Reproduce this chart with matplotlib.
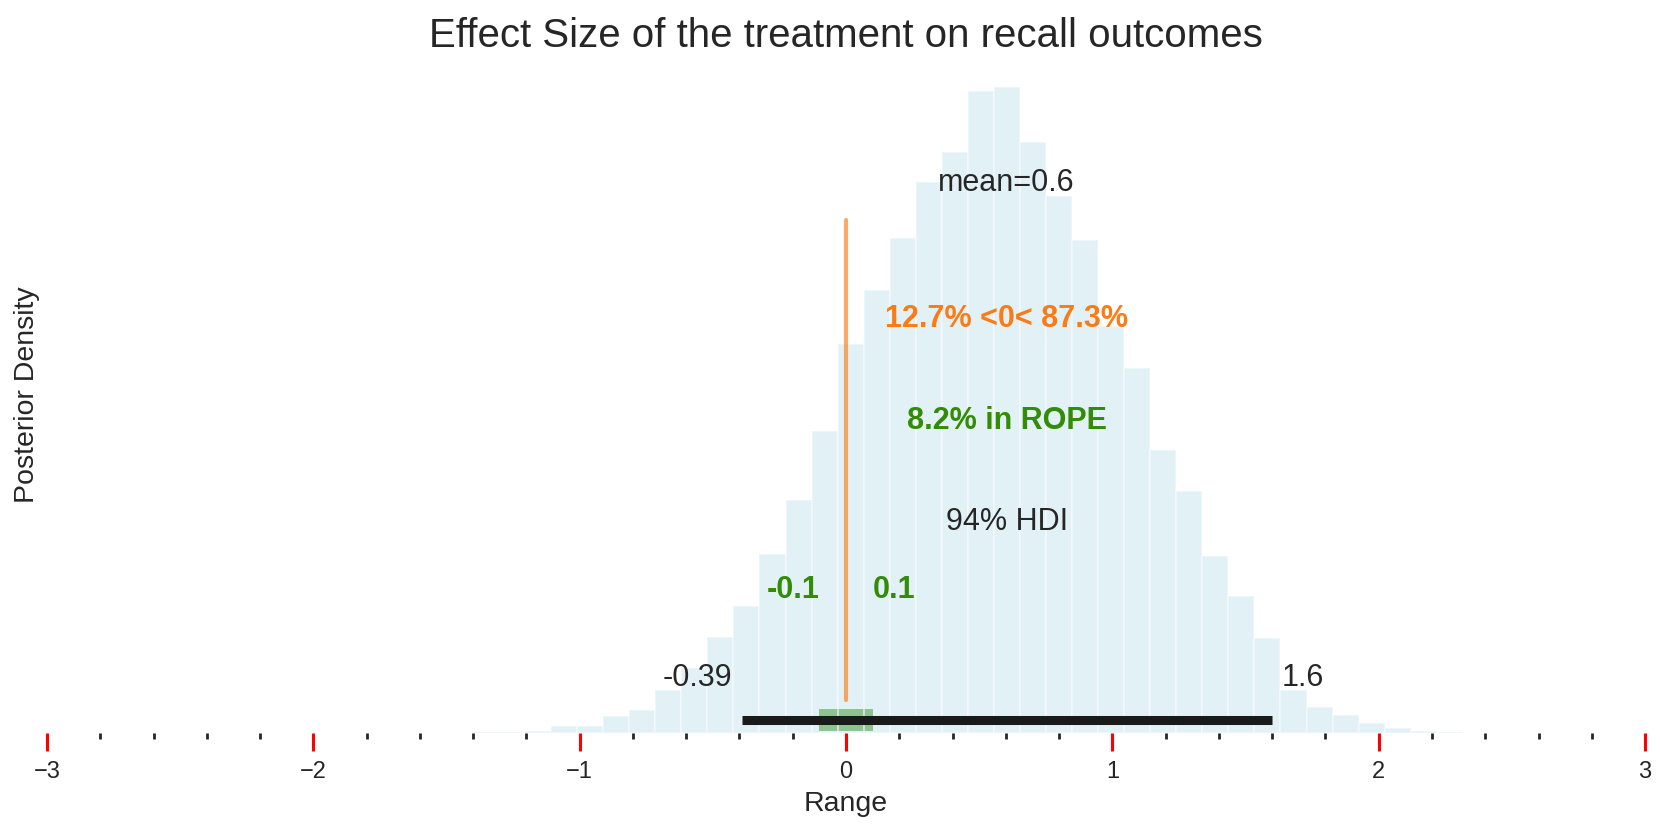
import matplotlib
matplotlib.use("Agg")
import matplotlib.pyplot as plt
from matplotlib.ticker import MultipleLocator

plt.rcParams['font.family'] = ['Liberation Sans', 'DejaVu Sans']

# posterior histogram: left bin edges and density per bin
bin_left = [-1.5963, -1.4985, -1.4007, -1.3029, -1.2051, -1.1073, -1.0095, -0.9117,
            -0.8139, -0.7161, -0.6183, -0.5205, -0.4227, -0.3249, -0.2271, -0.1293,
            -0.0315, 0.0663, 0.1641, 0.2619, 0.3597, 0.4575, 0.5553, 0.6531,
            0.7509, 0.8487, 0.9465, 1.0443, 1.1421, 1.2399, 1.3377, 1.4355,
            1.5333, 1.6311, 1.7289, 1.8267, 1.9245, 2.0223, 2.1201, 2.2179,
            2.3157, 2.4135]
bin_width = 0.0978
density = [0.0004, 0.0006, 0.0012, 0.0022, 0.0027, 0.0086, 0.0096, 0.0214,
           0.0283, 0.0534, 0.0801, 0.119, 0.157, 0.221, 0.287, 0.372,
           0.479, 0.546, 0.610, 0.679, 0.715, 0.791, 0.795, 0.728,
           0.661, 0.607, 0.501, 0.450, 0.349, 0.298, 0.218, 0.169,
           0.117, 0.0535, 0.0331, 0.0231, 0.0134, 0.0071, 0.0032, 0.0015,
           0.0007, 0.0004]

mean_val = 0.603
hdi = [-0.392, 1.6]
hdi_labels = ['-0.39', '1.6']
rope = [-0.1, 0.1]
rope_labels = ['-0.1', '0.1']
ref_val = 0
ref_text = '12.7% <0< 87.3%'
rope_text = '8.2% in ROPE'
plot_height = 0.834

orange = '#fa7c17'
green = '#328c06'
txt = '#262626'

fig = plt.figure(figsize=(16.61, 8.30), dpi=100)
ax = fig.add_axes([0.0283, 0.1163, 0.9621, 0.8165])

ax.bar(bin_left, density, width=bin_width, align='edge', color='lightblue',
       alpha=0.35, edgecolor='white', linewidth=1.5, zorder=1)

# rope band and hdi bar
ax.plot(rope, [plot_height * 0.02] * 2, lw=15.8, color=green, alpha=0.62,
        solid_capstyle='butt', zorder=0)
ax.plot(hdi, [plot_height * 0.02] * 2, lw=6.5, color='#1a1a1a',
        solid_capstyle='butt', zorder=2)

# reference value
ax.axvline(ref_val, ymin=0.05, ymax=0.757, color=orange, lw=3, alpha=0.65,
           solid_capstyle='round', zorder=3)

ax.text(mean_val, plot_height * 0.8, 'mean=0.6', ha='center', size=22, color=txt)
ax.text(mean_val, plot_height * 0.6, ref_text, ha='center', size=22,
        weight='bold', color=orange)
ax.text(mean_val, plot_height * 0.45, rope_text, ha='center', size=22,
        weight='bold', color=green)
ax.text((hdi[0] + hdi[1]) / 2, plot_height * 0.3, '94% HDI', ha='center',
        size=22, color=txt)
ax.text(rope[0], plot_height * 0.2, rope_labels[0], ha='right', size=22,
        weight='bold', color=green)
ax.text(rope[1], plot_height * 0.2, rope_labels[1], ha='left', size=22,
        weight='bold', color=green)
ax.annotate(hdi_labels[0], (hdi[0], plot_height * 0.07), xytext=(-7, 0),
            textcoords='offset points', ha='right', size=22, color=txt)
ax.annotate(hdi_labels[1], (hdi[1], plot_height * 0.07), xytext=(7, 0),
            textcoords='offset points', ha='left', size=22, color=txt)

ax.set_xlim(-3, 3)
ax.set_ylim(0, plot_height)
for s in ax.spines.values():
    s.set_visible(False)
ax.set_yticks([])
ax.xaxis.set_major_locator(MultipleLocator(1))
ax.xaxis.set_minor_locator(MultipleLocator(0.2))
ax.tick_params(axis='x', which='major', length=12.7, width=2.2, color='red',
               pad=7, labelsize=17, labelcolor=txt)
ax.tick_params(axis='x', which='minor', length=4.3, width=2, color=txt)

ax.set_xlabel('Range', size=20.5, labelpad=6, color=txt)
ax.set_ylabel('Posterior Density', size=20.5, labelpad=5, color=txt)
ax.set_title('Effect Size of the treatment on recall outcomes', size=29,
             pad=6, color=txt)

fig.savefig('out.png', dpi=100)
